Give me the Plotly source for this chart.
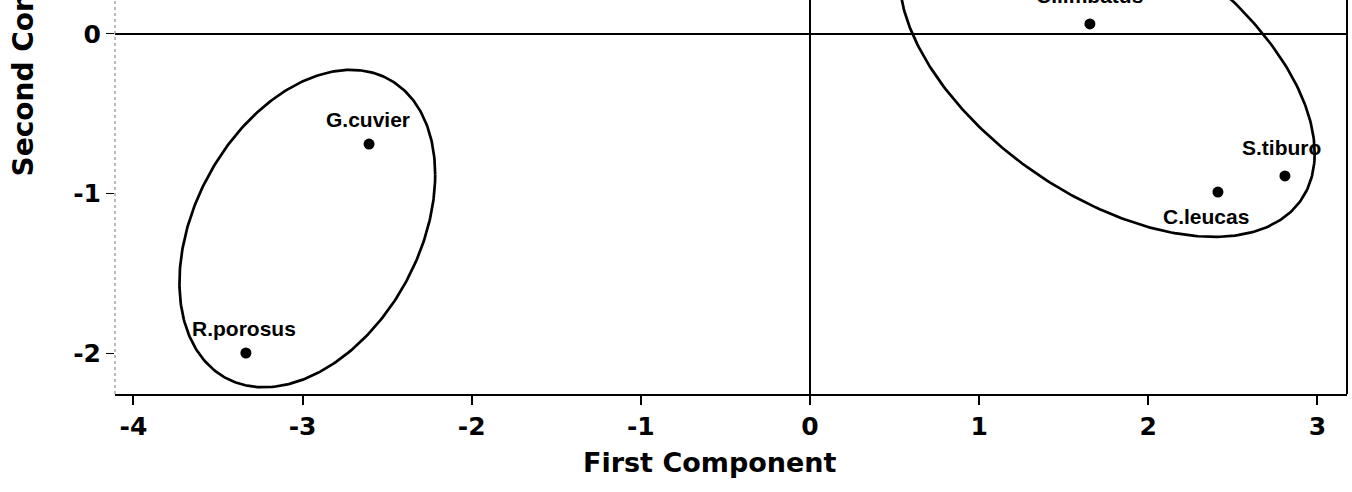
import numpy as np
import plotly.graph_objects as go

# ---- data ----
species = ["G.cuvier", "R.porosus", "C.limbatus", "S.tiburo", "C.leucas"]
first_component = [-2.607, -3.335, 1.655, 2.808, 2.412]
second_component = [-0.690, -2.000, 0.063, -0.890, -0.991]

x_tick_vals = [-4, -3, -2, -1, 0, 1, 2, 3]
x_tick_text = ["-4", "-3", "-2", "-1", "0", "1", "2", "3"]
y_tick_vals = [-2, -1, 0]
y_tick_text = ["-2", "-1", "0"]

# group ellipses: centre x, centre y, half-extent x, half-extent y, correlation
ellipse_left = [-2.972, -1.22, 0.756, 0.995, 0.34]
ellipse_right = [1.756, -0.194, 1.228, 1.078, -0.514]

# label offsets (px) for each species label, styling only
label_shift = {"G.cuvier": (-1, 25), "R.porosus": (-2, 25), "C.limbatus": (0, 28),
               "S.tiburo": (-3, 28), "C.leucas": (-12, -24)}


def ellipse_xy(p, n=361):
    cx, cy, sx, sy, r = p
    t = np.linspace(0, 2 * np.pi, n)
    x = cx + sx * np.cos(t)
    y = cy + sy * (r * np.cos(t) + np.sqrt(1 - r * r) * np.sin(t))
    return x, y


fig = go.Figure()
for p in (ellipse_left, ellipse_right):
    ex, ey = ellipse_xy(p)
    fig.add_trace(go.Scatter(x=ex, y=ey, mode="lines", line=dict(color="black", width=2.7),
                             hoverinfo="skip", showlegend=False))

fig.add_trace(go.Scatter(x=first_component, y=second_component, mode="markers",
                         marker=dict(color="black", size=11), text=species,
                         showlegend=False))

for name, xv, yv in zip(species, first_component, second_component):
    dx, dy = label_shift[name]
    fig.add_annotation(x=xv, y=yv, text=name, showarrow=False, xshift=dx, yshift=dy,
                       xanchor="center", yanchor="middle",
                       font=dict(family="Liberation Sans", size=21, color="black", weight="bold"))

# y-axis title (cut at the top like the reference)
fig.add_annotation(xref="paper", yref="paper", x=-0.074, y=0.548, text="Second Component",
                   textangle=-90, showarrow=False, xanchor="center", yanchor="bottom",
                   font=dict(family="DejaVu Sans", size=28, color="black", weight="bold"))

# x-axis title
fig.add_annotation(xref="paper", yref="paper", x=0.483, y=-0.175, text="First Component",
                   showarrow=False, xanchor="center", yanchor="middle",
                   font=dict(family="DejaVu Sans", size=27, color="black", weight="bold"))

# left axis (faint dotted) and right frame line
fig.add_shape(type="line", xref="paper", yref="paper", x0=0, x1=0, y0=0, y1=1,
              line=dict(color="#777777", width=1, dash="dot"))
fig.add_shape(type="line", xref="paper", yref="paper", x0=1, x1=1, y0=0, y1=1,
              line=dict(color="black", width=2))

fig.update_layout(
    width=1352, height=492,
    margin=dict(l=115, r=5, t=0, b=98),
    paper_bgcolor="white", plot_bgcolor="white",
    showlegend=False,
    xaxis=dict(range=[-4.109, 3.175], tickvals=x_tick_vals, ticktext=x_tick_text,
               showgrid=False, zeroline=True, zerolinecolor="black", zerolinewidth=1.6,
               showline=True, linecolor="black", linewidth=2,
               ticks="outside", ticklen=9, tickwidth=1.5, tickcolor="black",
               tickfont=dict(family="DejaVu Sans", size=25, color="black", weight="bold")),
    yaxis=dict(range=[-2.257, 0.213], tickvals=y_tick_vals, ticktext=y_tick_text,
               showgrid=False, zeroline=True, zerolinecolor="black", zerolinewidth=1.6,
               showline=False,
               ticks="outside", ticklen=8, tickwidth=1.2, tickcolor="black",
               tickfont=dict(family="DejaVu Sans", size=25, color="black", weight="bold")),
)

fig.write_html("out.html")
